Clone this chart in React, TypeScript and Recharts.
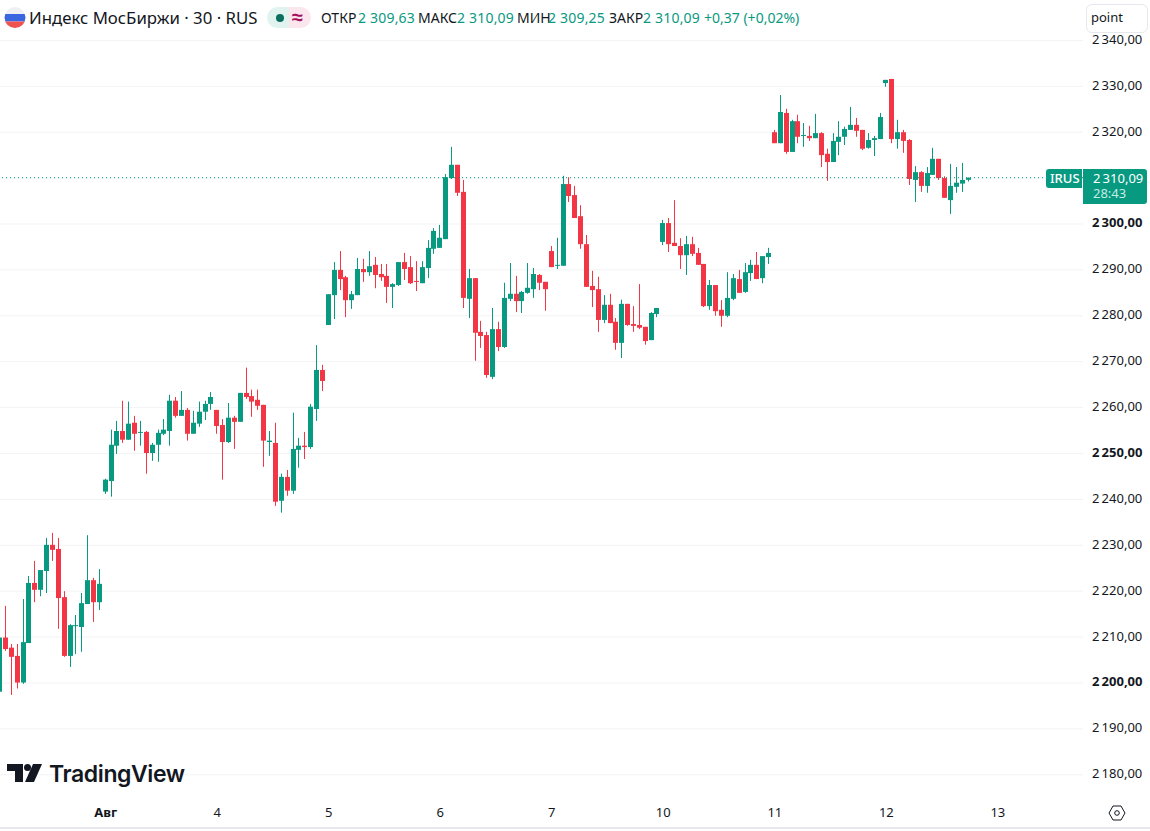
import React from "react";
import { ComposedChart, Bar, XAxis, YAxis, CartesianGrid, ReferenceLine } from "recharts";

const opens = [
  2198.1,2209.9,2207.7,2205.9,2200.1,2208.7,2221.8,2220.3,2224.4,2230.1,
  2229.2,2218.7,2205.9,2212.4,2212.2,2217.2,2222.4,2217.6,2241.7,2244.0,
  2251.7,2254.9,2253.0,2256.7,2254.5,2254.7,2250.1,2251.9,2254.3,2254.9,
  2261.5,2258.2,2259.5,2254.3,2256.5,2259.1,2260.8,2259.5,2256.2,2252.5,
  2257.8,2256.9,2263.2,2262.5,2261.7,2260.6,2252.5,2252.3,2239.7,2244.9,
  2241.9,2250.8,2251.7,2251.4,2259.7,2268.2,2278.0,2284.5,2290.0,2288.4,
  2283.4,2284.5,2290.2,2289.5,2291.1,2289.1,2288.7,2286.3,2286.7,2291.7,
  2290.6,2287.6,2287.1,2290.4,2294.6,2294.8,2296.7,2310.0,2312.9,2307.0,
  2283.7,2288.2,2276.5,2275.8,2266.7,2277.1,2273.2,2283.7,2284.8,2283.2,
  2285.0,2285.8,2288.9,2287.4,2294.1,2290.9,2290.9,2308.7,2306.3,2301.7,
  2295.6,2286.5,2285.8,2279.1,2282.4,2278.7,2274.1,2282.6,2278.2,2278.0,
  2277.6,2274.7,2280.4,2296.1,2300.2,2295.9,2295.2,2293.2,2295.6,2293.7,
  2291.3,2282.1,2286.7,2281.3,2280.0,2283.7,2288.0,2285.2,2289.3,2291.1,
  2288.2,2292.8,2320.0,2317.6,2324.2,2315.7,2322.4,2319.2,2319.2,2318.7,
  2319.8,2315.3,2313.5,2317.9,2319.0,2320.5,2321.6,2320.5,2316.6,2318.3,
  2318.5,2330.7,2331.6,2318.5,2320.0,2318.3,2309.6,2311.3,2308.3,2310.7,
  2314.2,2310.0,2305.2,2308.1,2308.8,2309.63,
];
const closes = [
  2209.9,2207.4,2205.7,2200.1,2208.9,2221.8,2220.3,2224.6,2230.1,2229.0,
  2218.5,2205.9,2212.6,2212.6,2217.4,2222.4,2217.6,2221.6,2244.3,2251.9,
  2254.9,2253.0,2256.5,2254.3,2254.7,2250.1,2251.9,2254.5,2255.2,2261.5,
  2258.2,2259.5,2254.3,2256.7,2259.1,2260.8,2262.3,2256.0,2252.5,2257.8,
  2256.9,2263.2,2262.3,2261.3,2260.4,2252.8,2252.8,2239.5,2244.9,2241.9,
  2251.0,2251.7,2251.4,2260.2,2268.2,2265.8,2284.7,2290.0,2288.0,2283.4,
  2284.7,2290.2,2289.5,2290.8,2288.9,2288.4,2286.3,2286.9,2291.7,2290.2,
  2287.1,2287.4,2290.6,2294.8,2298.5,2297.0,2310.2,2312.9,2306.8,2283.9,
  2288.2,2276.3,2275.6,2267.1,2277.1,2273.2,2283.9,2284.8,2283.2,2285.2,
  2286.1,2289.1,2287.2,2285.8,2290.6,2291.1,2308.7,2306.1,2301.3,2295.6,
  2286.3,2285.6,2279.1,2282.4,2278.4,2274.1,2282.6,2278.0,2277.8,2277.4,
  2274.5,2280.6,2281.7,2300.2,2295.6,2295.2,2293.2,2295.6,2293.5,2291.1,
  2282.1,2286.7,2281.0,2280.0,2283.9,2288.2,2285.0,2289.5,2291.1,2288.0,
  2293.0,2293.7,2317.6,2324.4,2315.7,2322.4,2319.0,2319.4,2318.7,2319.8,
  2315.0,2313.5,2318.1,2319.0,2320.7,2321.6,2320.3,2316.4,2318.3,2318.7,
  2323.3,2331.4,2318.5,2320.0,2318.1,2309.8,2311.3,2308.3,2311.1,2314.2,
  2310.0,2305.7,2308.3,2309.0,2309.6,2310.09,
];
const highs = [
  2209.9,2216.8,2208.5,2208.5,2218.3,2223.3,2226.6,2224.6,2231.6,2232.7,
  2231.6,2220.0,2212.8,2214.8,2219.6,2232.2,2222.9,2224.8,2244.5,2255.2,
  2257.1,2261.5,2261.3,2258.2,2257.1,2254.9,2252.3,2255.2,2257.5,2262.8,
  2262.3,2263.6,2259.9,2259.3,2261.3,2261.5,2263.4,2259.5,2257.5,2261.0,
  2258.2,2263.2,2268.7,2263.9,2263.9,2260.6,2254.9,2256.7,2245.6,2246.4,
  2258.9,2253.4,2254.7,2260.8,2273.6,2269.3,2284.7,2291.7,2294.1,2288.7,
  2285.4,2292.6,2292.4,2294.1,2292.8,2291.3,2291.3,2287.1,2291.7,2293.7,
  2293.0,2291.9,2291.9,2296.5,2299.1,2299.8,2310.9,2316.8,2312.9,2309.6,
  2290.2,2288.2,2278.9,2276.5,2281.7,2278.7,2287.2,2291.5,2288.7,2285.4,
  2291.5,2290.4,2289.1,2287.4,2295.2,2297.0,2310.5,2310.2,2308.3,2304.1,
  2297.6,2289.8,2288.5,2284.5,2284.8,2279.5,2283.5,2282.6,2282.1,2286.9,
  2277.6,2280.8,2281.7,2300.9,2301.3,2305.2,2296.9,2297.4,2297.2,2294.8,
  2291.3,2287.8,2286.7,2283.4,2289.5,2289.1,2290.0,2291.5,2292.2,2293.9,
  2293.0,2294.8,2320.5,2328.1,2325.1,2322.7,2323.8,2322.0,2321.4,2324.0,
  2320.0,2316.4,2319.8,2322.4,2321.2,2325.5,2323.1,2320.5,2319.8,2319.2,
  2324.2,2331.4,2331.6,2322.7,2320.5,2318.5,2312.6,2311.5,2312.4,2316.6,
  2314.2,2310.4,2313.1,2312.4,2313.3,2310.09,
];
const lows = [
  2198.1,2207.0,2197.4,2198.8,2199.8,2208.7,2217.6,2218.9,2219.6,2226.6,
  2211.8,2205.7,2203.5,2206.3,2206.8,2217.2,2213.3,2215.9,2241.2,2240.6,
  2249.9,2252.3,2253.0,2250.6,2251.7,2245.6,2248.4,2248.2,2254.0,2251.7,
  2257.8,2258.2,2252.8,2254.3,2255.8,2257.3,2259.5,2254.3,2244.3,2252.3,
  2251.0,2256.9,2261.9,2258.0,2259.5,2247.1,2249.5,2238.6,2237.1,2240.8,
  2241.2,2246.9,2248.8,2251.0,2257.1,2263.6,2278.0,2279.3,2285.6,2279.7,
  2281.5,2284.5,2287.4,2288.7,2286.0,2287.6,2282.8,2281.7,2286.5,2287.8,
  2286.9,2285.4,2287.1,2288.2,2293.5,2294.8,2296.7,2309.8,2306.1,2281.7,
  2279.5,2270.2,2273.0,2266.5,2266.2,2272.3,2273.0,2283.2,2280.8,2280.6,
  2284.8,2283.9,2285.6,2281.1,2290.6,2290.2,2290.9,2304.8,2301.3,2294.6,
  2286.3,2281.9,2276.5,2278.4,2278.4,2272.6,2270.8,2277.8,2276.5,2277.1,
  2273.7,2274.7,2279.7,2295.4,2293.9,2295.2,2290.2,2288.9,2293.0,2291.1,
  2281.9,2281.3,2280.0,2277.6,2279.7,2283.4,2285.0,2285.0,2287.6,2288.0,
  2287.1,2291.3,2317.6,2317.6,2315.3,2315.7,2317.6,2316.8,2318.1,2318.7,
  2312.4,2309.4,2313.5,2315.0,2317.2,2320.5,2319.0,2316.1,2316.4,2314.8,
  2318.5,2329.9,2317.6,2316.4,2315.5,2308.5,2304.8,2307.0,2306.8,2310.7,
  2309.6,2305.7,2302.2,2306.8,2307.0,2309.25,
];

const dayTicks = [18, 37, 56, 75, 94, 113, 132, 151, 170];
const dayLabels = ["Авг", "4", "5", "6", "7", "10", "11", "12", "13"];
const priceTicks = [2180, 2190, 2200, 2210, 2220, 2230, 2240, 2250, 2260, 2270, 2280, 2290, 2300, 2310, 2320, 2330, 2340];
const boldPrices = [2200, 2250, 2300];
const coveredPrices = [2310];
const lastPrice = 2310.09;
const xDomain = [0, 184.5];
const yDomain = [2175.16, 2348.8];

const GREEN = "#089981";
const RED = "#f23645";
const TEXT = "#131722";
const FONT = "'Noto Sans', sans-serif";

const candles = opens.map((open, i) => ({
  i,
  open,
  close: closes[i],
  range: [lows[i], highs[i]],
}));

const fmtPrice = (p: number) => {
  const [a, b] = p.toFixed(2).split(".");
  return `${a[0]}\u2009${a.slice(1)},${b}`;
};

function Candle(props: any) {
  const { x, y, width, height, payload } = props;
  const [low, high] = payload.range;
  const k = height / (high - low);
  const cx = Math.round(x + width / 2 - 0.5) + 0.5;
  const yOf = (p: number) => y + (high - p) * k;
  const up = payload.close >= payload.open;
  const color = up ? GREEN : RED;
  const top = yOf(Math.max(payload.open, payload.close));
  const bottom = yOf(Math.min(payload.open, payload.close));
  return (
    <g>
      <line x1={cx} x2={cx} y1={y} y2={y + height} stroke={color} strokeWidth={1} />
      <rect x={cx - 2.5} y={top} width={5} height={Math.max(bottom - top, 1)} fill={color} />
    </g>
  );
}

function PriceTick(props: any) {
  const { y, payload } = props;
  if (coveredPrices.includes(payload.value)) return <g />;
  const bold = boldPrices.includes(payload.value);
  return (
    <text x={1092} y={y} dy={3.5} fontFamily={FONT} fontSize={13} fontWeight={bold ? 700 : 400} fill={TEXT}>
      {fmtPrice(payload.value)}
    </text>
  );
}

function DayTick(props: any) {
  const { x, payload } = props;
  const idx = dayTicks.indexOf(payload.value);
  return (
    <text x={x} y={817} textAnchor="middle" fontFamily={FONT} fontSize={13} fontWeight={idx === 0 ? 700 : 400} fill={TEXT}>
      {dayLabels[idx]}
    </text>
  );
}

const abs = (left: number, top: number, extra: React.CSSProperties = {}): React.CSSProperties => ({
  position: "absolute",
  left,
  top,
  whiteSpace: "nowrap",
  fontFamily: FONT,
  ...extra,
});

const ohlc: [string, number, string, number][] = [
  ["ОТКР", 321, "2 309,63", 358],
  ["МАКС", 418, "2 310,09", 457],
  ["МИН", 517, "2 309,25", 548],
  ["ЗАКР", 609, "2 310,09", 643],
];

export default function App() {
  return (
    <div style={{ position: "absolute", left: 0, top: 0, width: 1150, height: 831, overflow: "hidden", background: "#fff" }}>
      <ComposedChart width={1150} height={831} data={candles} margin={{ top: 0, right: 0, bottom: 3, left: 0 }}>
        <CartesianGrid vertical={false} horizontal stroke="#f2f3f5" horizontalValues={priceTicks} />
        <XAxis
          dataKey="i"
          type="number"
          domain={xDomain}
          ticks={dayTicks}
          interval={0}
          allowDataOverflow
          axisLine={false}
          tickLine={false}
          height={31}
          tick={<DayTick />}
        />
        <YAxis
          orientation="right"
          type="number"
          domain={yDomain}
          ticks={priceTicks}
          interval={0}
          allowDataOverflow
          axisLine={false}
          tickLine={false}
          width={67}
          tick={<PriceTick />}
        />
        <ReferenceLine y={lastPrice} stroke={GREEN} strokeDasharray="1 3" strokeWidth={1} />
        <Bar dataKey="range" barSize={5} isAnimationActive={false} shape={<Candle />} />
      </ComposedChart>

      {/* bottom rule */}
      <div style={{ position: "absolute", left: 0, top: 827, width: 1150, height: 2, background: "#e6e8ee" }} />

      {/* flag */}
      <svg style={{ position: "absolute", left: 4, top: 6 }} width={22} height={23} viewBox="0 0 22 23">
        <defs>
          <clipPath id="flagClip"><circle cx={11} cy={11.5} r={10.5} /></clipPath>
        </defs>
        <g clipPath="url(#flagClip)">
          <rect x={0} y={0} width={22} height={8} fill="#eef0f3" />
          <rect x={0} y={8} width={22} height={7.5} fill="#3a66e0" />
          <rect x={0} y={15.5} width={22} height={8} fill="#ef5350" />
        </g>
      </svg>
      <div style={abs(29, 6, { fontSize: 16.8, lineHeight: "24px", color: TEXT })}>Индекс МосБиржи · 30 · RUS</div>

      {/* status pill */}
      <div style={{ position: "absolute", left: 267, top: 7, width: 22, height: 21, background: "#e0f3ef", borderRadius: "11px 0 0 11px" }} />
      <div style={{ position: "absolute", left: 289, top: 7, width: 22, height: 21, background: "#fce6ee", borderRadius: "0 11px 11px 0" }} />
      <div style={{ position: "absolute", left: 276, top: 14, width: 8, height: 8, background: "#0a6f5e", borderRadius: 4 }} />
      <div style={abs(292, 6, { fontSize: 20, lineHeight: "22px", fontWeight: 700, color: "#a3125f" })}>≈</div>

      {/* OHLC */}
      {ohlc.map(([label, lx, value, vx]) => (
        <React.Fragment key={label}>
          <div style={abs(lx, 9, { fontSize: 14, lineHeight: "18px", color: TEXT })}>{label}</div>
          <div style={abs(vx, 9, { fontSize: 14, lineHeight: "18px", color: GREEN, letterSpacing: 0.2 })}>{value}</div>
        </React.Fragment>
      ))}
      <div style={abs(704, 9, { fontSize: 14, lineHeight: "18px", color: GREEN })}>+0,37 (+0,02%)</div>

      {/* point box */}
      <div style={{ position: "absolute", left: 1086, top: 4, width: 60, height: 27, background: "#fff", border: "1px solid #e6e8ee", borderRadius: 6 }} />
      <div style={abs(1091, 8, { fontSize: 13, lineHeight: "18px", color: TEXT })}>point</div>

      {/* last price labels */}
      <div style={{ position: "absolute", left: 1046, top: 169, width: 36, height: 19, background: GREEN, borderRadius: "3px 0 0 3px" }} />
      <div style={abs(1050, 171, { fontSize: 13, lineHeight: "15px", color: "#fff", fontWeight: 500 })}>IRUS</div>
      <div style={{ position: "absolute", left: 1083, top: 169, width: 64, height: 35, background: GREEN, borderRadius: "0 3px 3px 0" }} />
      <div style={abs(1093, 171, { fontSize: 13, lineHeight: "15px", color: "#fff" })}>2{"\u2009"}310,09</div>
      <div style={abs(1093, 186, { fontSize: 13, lineHeight: "15px", color: "#c4ece3" })}>28:43</div>

      {/* TradingView logo */}
      <svg style={{ position: "absolute", left: 7, top: 764 }} width={35} height={19} viewBox="0 0 35 19">
        <path d="M0 0h16v18H8V7H0z" fill="#131722" />
        <circle cx={20.5} cy={3.5} r={3.5} fill="#131722" />
        <path d="M26 0h9l-8 18h-9z" fill="#131722" />
      </svg>
      <div style={abs(49, 760, { fontSize: 23, lineHeight: "28px", fontWeight: 600, color: TEXT, fontFamily: "Inter, sans-serif", letterSpacing: -0.4 })}>TradingView</div>

      {/* settings icon */}
      <svg style={{ position: "absolute", left: 1108, top: 804 }} width={18} height={18} viewBox="0 0 18 18">
        <path d="M5 2h8l4 7-4 7H5L1 9z" fill="none" stroke={TEXT} strokeWidth={1} />
        <circle cx={9} cy={9} r={2.3} fill="none" stroke={TEXT} strokeWidth={1} />
      </svg>
    </div>
  );
}
